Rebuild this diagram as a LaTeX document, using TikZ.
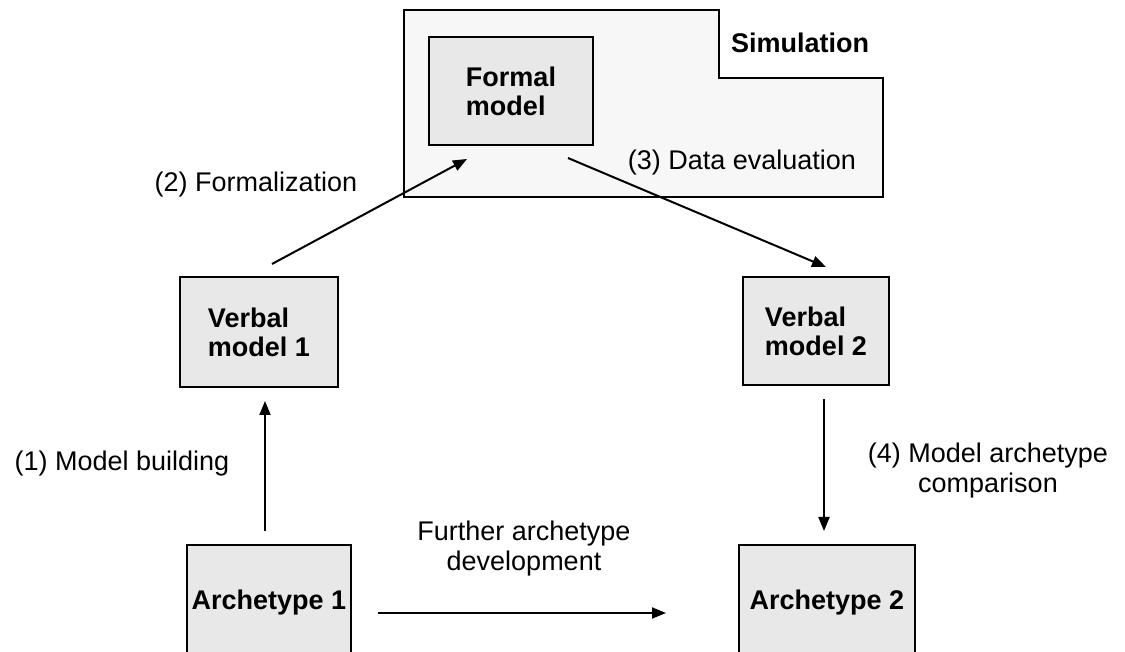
\documentclass[tikz,border=0pt]{standalone}
\usepackage{fontspec}
\setmainfont{Liberation Sans}
\usepackage{tikz}
\usetikzlibrary{arrows.meta}
\usetikzlibrary{calc,positioning}

\definecolor{boxgray}{HTML}{E8E8E8}
\definecolor{simgray}{HTML}{F7F7F7}

\begin{document}
\begin{tikzpicture}[x=1pt,y=1pt,
    lbl/.style={font=\fontsize{27}{30}\selectfont,align=center,inner sep=0pt},
    modelbox/.style={draw,line width=2pt,fill=boxgray,inner sep=0pt,
      font=\fontsize{27}{29}\selectfont\bfseries,align=left},
    arr/.style={-{Triangle[length=14pt,width=11pt]},line width=2pt}]
        \useasboundingbox (0,0) rectangle (1125,651);

        \draw[fill=simgray,line width=1.5pt] (404,641) -- (719,641) -- (719,573) -- (883,573) -- (883,454) -- (404,454) -- cycle;
        \node[lbl,font=\fontsize{27}{30}\selectfont\bfseries] (simlabel) at (800,608) {Simulation};

        \node[modelbox,minimum width=164pt,minimum height=108pt] (formal) at (511,560) {Formal\\model};
        \node[modelbox,minimum width=158pt,minimum height=110pt] (verbalA) at (259,319) {Verbal\\model 1};
        \node[modelbox,minimum width=146pt,minimum height=108pt] (verbalB) at (816,320) {Verbal\\model 2};
        \node[modelbox,minimum width=164pt,minimum height=116pt] (archA) at (269,48) {Archetype 1};
        \node[modelbox,minimum width=176pt,minimum height=116pt] (archB) at (827,48) {Archetype 2};

        \node[lbl] (building) at (122,187) {(1) Model building};
        \node[lbl] (formalization) at (256,466) {(2) Formalization};
        \node[lbl] (evaluation) at (742,488) {(3) Data evaluation};
        \node[lbl] (comparison) at (988,180) {(4) Model archetype\\comparison};
        \node[lbl] (further) at (524,102) {Further archetype\\development};

        \draw[arr] ([xshift=-4pt,yshift=13pt]archA.north) -- ([xshift=6pt,yshift=-13pt]verbalA.south);
        \draw[arr] ([xshift=13pt,yshift=12pt]verbalA.north) -- ([xshift=-44pt,yshift=-13pt]formal.south);
        \draw[arr] ([xshift=57pt,yshift=-12pt]formal.south) -- ([xshift=10pt,yshift=9pt]verbalB.north);
        \draw[arr] ([xshift=8pt,yshift=-13pt]verbalB.south) -- ([xshift=-3pt,yshift=13pt]archB.north);
        \draw[arr] ([xshift=26pt,yshift=-10pt]archA.east) -- ([xshift=-72pt,yshift=-10pt]archB.west);
      \end{tikzpicture}
\end{document}
